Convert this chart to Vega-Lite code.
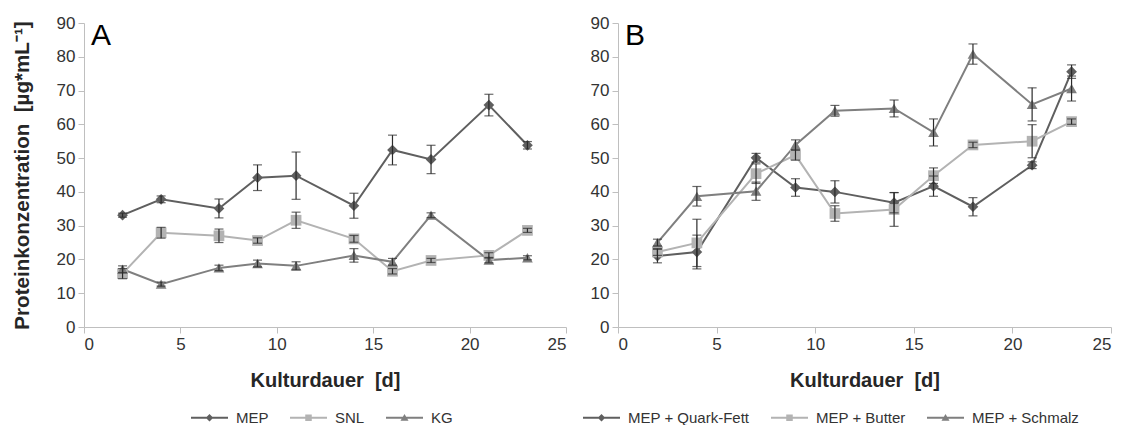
{
  "$schema": "https://vega.github.io/schema/vega-lite/v6.json",
  "padding": {"left": 12, "top": 14, "right": 5, "bottom": 0},
  "background": "white",
  "config": {
    "view": {"stroke": null},
    "font": "Liberation Sans",
    "axis": {
      "grid": false,
      "domainColor": "#bfbfbf",
      "tickColor": "#bfbfbf",
      "tickSize": 6,
      "labelFont": "Liberation Sans",
      "labelFontSize": 17,
      "labelColor": "#333333",
      "labelPadding": 3,
      "titleFont": "Liberation Sans",
      "titleFontSize": 20,
      "titleFontWeight": "bold",
      "titleColor": "#262626"
    },
    "title": {"anchor": "start", "frame": "group", "orient": "top", "offset": -37, "baseline": "alphabetic", "fontSize": 30, "fontWeight": "normal", "font": "Liberation Sans", "color": "#000000", "dx": 7},
    "legend": {
      "labelFont": "Liberation Sans",
      "labelFontSize": 15,
      "labelColor": "#333333",
      "orient": "none",
      "direction": "horizontal",
      "title": null,
      "labelOffset": 19,
      "columnPadding": 18,
      "symbolOpacity": 1
    }
  },
  "datasets": {
    "main": [
      {"panel": "A", "series": "MEP", "day": 2, "value": 33.1, "err": 0.6},
      {"panel": "A", "series": "MEP", "day": 4, "value": 37.8, "err": 1.0},
      {"panel": "A", "series": "MEP", "day": 7, "value": 35.1, "err": 2.8},
      {"panel": "A", "series": "MEP", "day": 9, "value": 44.2, "err": 3.8},
      {"panel": "A", "series": "MEP", "day": 11, "value": 44.8, "err": 7.0},
      {"panel": "A", "series": "MEP", "day": 14, "value": 35.9, "err": 3.7},
      {"panel": "A", "series": "MEP", "day": 16, "value": 52.4, "err": 4.4},
      {"panel": "A", "series": "MEP", "day": 18, "value": 49.6, "err": 4.2},
      {"panel": "A", "series": "MEP", "day": 21, "value": 65.7, "err": 3.2},
      {"panel": "A", "series": "MEP", "day": 23, "value": 53.8, "err": 1.1},
      {"panel": "A", "series": "SNL", "day": 2, "value": 15.8, "err": 1.5},
      {"panel": "A", "series": "SNL", "day": 4, "value": 27.9, "err": 1.6},
      {"panel": "A", "series": "SNL", "day": 7, "value": 27.0, "err": 2.0},
      {"panel": "A", "series": "SNL", "day": 9, "value": 25.6, "err": 0.8},
      {"panel": "A", "series": "SNL", "day": 11, "value": 31.6, "err": 2.4},
      {"panel": "A", "series": "SNL", "day": 14, "value": 26.1, "err": 1.0},
      {"panel": "A", "series": "SNL", "day": 16, "value": 16.5, "err": 0.8},
      {"panel": "A", "series": "SNL", "day": 18, "value": 19.7, "err": 0.6},
      {"panel": "A", "series": "SNL", "day": 21, "value": 21.2, "err": 0.8},
      {"panel": "A", "series": "SNL", "day": 23, "value": 28.6, "err": 0.6},
      {"panel": "A", "series": "KG", "day": 2, "value": 17.1, "err": 1.0},
      {"panel": "A", "series": "KG", "day": 4, "value": 12.7, "err": 0.6},
      {"panel": "A", "series": "KG", "day": 7, "value": 17.5, "err": 0.8},
      {"panel": "A", "series": "KG", "day": 9, "value": 18.8, "err": 1.0},
      {"panel": "A", "series": "KG", "day": 11, "value": 18.1, "err": 1.2},
      {"panel": "A", "series": "KG", "day": 14, "value": 21.2, "err": 2.0},
      {"panel": "A", "series": "KG", "day": 16, "value": 19.3, "err": 1.0},
      {"panel": "A", "series": "KG", "day": 18, "value": 33.1, "err": 0.7},
      {"panel": "A", "series": "KG", "day": 21, "value": 19.8, "err": 0.8},
      {"panel": "A", "series": "KG", "day": 23, "value": 20.5, "err": 0.6},
      {"panel": "B", "series": "MEP + Quark-Fett", "day": 2, "value": 21.0, "err": 2.0},
      {"panel": "B", "series": "MEP + Quark-Fett", "day": 4, "value": 22.2, "err": 5.0},
      {"panel": "B", "series": "MEP + Quark-Fett", "day": 7, "value": 50.1, "err": 1.3},
      {"panel": "B", "series": "MEP + Quark-Fett", "day": 9, "value": 41.3, "err": 2.6},
      {"panel": "B", "series": "MEP + Quark-Fett", "day": 11, "value": 40.0, "err": 3.3},
      {"panel": "B", "series": "MEP + Quark-Fett", "day": 14, "value": 36.8, "err": 3.0},
      {"panel": "B", "series": "MEP + Quark-Fett", "day": 16, "value": 41.7, "err": 3.0},
      {"panel": "B", "series": "MEP + Quark-Fett", "day": 18, "value": 35.6, "err": 2.7},
      {"panel": "B", "series": "MEP + Quark-Fett", "day": 21, "value": 47.9, "err": 1.0},
      {"panel": "B", "series": "MEP + Quark-Fett", "day": 23, "value": 75.6, "err": 2.0},
      {"panel": "B", "series": "MEP + Butter", "day": 2, "value": 22.2, "err": 1.0},
      {"panel": "B", "series": "MEP + Butter", "day": 4, "value": 24.9, "err": 7.0},
      {"panel": "B", "series": "MEP + Butter", "day": 7, "value": 45.4, "err": 2.9},
      {"panel": "B", "series": "MEP + Butter", "day": 9, "value": 50.9, "err": 1.5},
      {"panel": "B", "series": "MEP + Butter", "day": 11, "value": 33.6, "err": 2.3},
      {"panel": "B", "series": "MEP + Butter", "day": 14, "value": 34.8, "err": 5.0},
      {"panel": "B", "series": "MEP + Butter", "day": 16, "value": 44.8, "err": 2.3},
      {"panel": "B", "series": "MEP + Butter", "day": 18, "value": 53.9, "err": 0.8},
      {"panel": "B", "series": "MEP + Butter", "day": 21, "value": 55.0, "err": 4.9},
      {"panel": "B", "series": "MEP + Butter", "day": 23, "value": 60.8, "err": 0.8},
      {"panel": "B", "series": "MEP + Schmalz", "day": 2, "value": 25.0, "err": 1.0},
      {"panel": "B", "series": "MEP + Schmalz", "day": 4, "value": 38.7, "err": 2.9},
      {"panel": "B", "series": "MEP + Schmalz", "day": 7, "value": 40.2, "err": 2.7},
      {"panel": "B", "series": "MEP + Schmalz", "day": 9, "value": 53.9, "err": 1.5},
      {"panel": "B", "series": "MEP + Schmalz", "day": 11, "value": 64.0, "err": 1.6},
      {"panel": "B", "series": "MEP + Schmalz", "day": 14, "value": 64.7, "err": 2.5},
      {"panel": "B", "series": "MEP + Schmalz", "day": 16, "value": 57.6, "err": 4.0},
      {"panel": "B", "series": "MEP + Schmalz", "day": 18, "value": 80.8, "err": 3.0},
      {"panel": "B", "series": "MEP + Schmalz", "day": 21, "value": 65.9, "err": 4.9},
      {"panel": "B", "series": "MEP + Schmalz", "day": 23, "value": 70.6, "err": 3.7}
    ]
  },
  "spacing": 23,
  "hconcat": [
    {
      "title": {"text": "A"},
      "width": 482,
      "height": 304,
      "data": {"name": "main"},
      "transform": [{"filter": "datum.panel === 'A'"}],
      "encoding": {
        "x": {"field": "day", "type": "quantitative", "scale": {"domain": [0, 25], "nice": false}, "axis": {"values": [0, 5, 10, 15, 20, 25], "title": "Kulturdauer\u00a0 [d]", "titlePadding": 18}},
        "y": {"field": "value", "type": "quantitative", "scale": {"domain": [0, 90], "nice": false}, "axis": {"values": [0, 10, 20, 30, 40, 50, 60, 70, 80, 90], "title": "Proteinkonzentration\u00a0 [µg*mL⁻¹]", "titleFontSize": 20.6, "titlePadding": 24}}
      },
      "resolve": {"scale": {"color": "independent", "shape": "independent"}},
      "layer": [
        {
          "mark": {"type": "line", "strokeWidth": 2},
          "encoding": {
            "color": {"field": "series", "type": "nominal", "scale": {"domain": ["MEP", "SNL", "KG"], "range": ["#5f5f5f", "#b3b3b3", "#7f7f7f"]}, "legend": null}
          }
        },
        {
          "mark": {"type": "point", "filled": true, "opacity": 1, "size": 115},
          "encoding": {
            "color": {"field": "series", "type": "nominal", "scale": {"domain": ["MEP", "SNL", "KG"], "range": ["#5f5f5f", "#b3b3b3", "#7f7f7f"]}, "legend": null},
            "shape": {"field": "series", "type": "nominal", "scale": {"domain": ["MEP", "SNL", "KG"], "range": ["diamond", "square", "triangle-up"]}, "legend": null}
          }
        },
        {
          "mark": {"type": "errorbar", "ticks": {"size": 9}, "color": "#2b2b2b", "thickness": 1.2},
          "encoding": {"yError": {"field": "err"}}
        },
        {
          "data": {"values": [{"panel": "A", "lg": "MEP"}, {"panel": "A", "lg": "SNL"}, {"panel": "A", "lg": "KG"}]},
          "mark": {"type": "point", "filled": true, "opacity": 0, "size": 100, "strokeWidth": 0},
          "encoding": {
            "x": {"value": 0},
            "y": {"value": 0},
            "color": {"field": "lg", "type": "nominal", "scale": {"domain": ["MEP", "SNL", "KG"], "range": ["#5f5f5f", "#b3b3b3", "#7f7f7f"]}, "legend": {"legendX": 118, "legendY": 387}},
            "shape": {"field": "lg", "type": "nominal", "scale": {"domain": ["MEP", "SNL", "KG"], "range": [
              "M-3.7,-0.2L3.7,-0.2L3.7,0.2L-3.7,0.2Z M0,-0.75L0.75,0L0,0.75L-0.75,0Z",
              "M-3.7,-0.2L3.7,-0.2L3.7,0.2L-3.7,0.2Z M-0.65,-0.65L0.65,-0.65L0.65,0.65L-0.65,0.65Z",
              "M-3.7,-0.2L3.7,-0.2L3.7,0.2L-3.7,0.2Z M0,-0.75L0.8,0.6L-0.8,0.6Z"
            ]}, "legend": {"legendX": 118, "legendY": 387}}
          }
        }
      ]
    },
    {
      "title": {"text": "B"},
      "width": 493,
      "height": 304,
      "data": {"name": "main"},
      "transform": [{"filter": "datum.panel === 'B'"}],
      "encoding": {
        "x": {"field": "day", "type": "quantitative", "scale": {"domain": [0, 25], "nice": false}, "axis": {"values": [0, 5, 10, 15, 20, 25], "title": "Kulturdauer\u00a0 [d]", "titlePadding": 18}},
        "y": {"field": "value", "type": "quantitative", "scale": {"domain": [0, 90], "nice": false}, "axis": {"values": [0, 10, 20, 30, 40, 50, 60, 70, 80, 90], "title": null}}
      },
      "resolve": {"scale": {"color": "independent", "shape": "independent"}},
      "layer": [
        {
          "mark": {"type": "line", "strokeWidth": 2},
          "encoding": {
            "color": {"field": "series", "type": "nominal", "scale": {"domain": ["MEP + Quark-Fett", "MEP + Butter", "MEP + Schmalz"], "range": ["#5f5f5f", "#b3b3b3", "#7f7f7f"]}, "legend": null}
          }
        },
        {
          "mark": {"type": "point", "filled": true, "opacity": 1, "size": 115},
          "encoding": {
            "color": {"field": "series", "type": "nominal", "scale": {"domain": ["MEP + Quark-Fett", "MEP + Butter", "MEP + Schmalz"], "range": ["#5f5f5f", "#b3b3b3", "#7f7f7f"]}, "legend": null},
            "shape": {"field": "series", "type": "nominal", "scale": {"domain": ["MEP + Quark-Fett", "MEP + Butter", "MEP + Schmalz"], "range": ["diamond", "square", "triangle-up"]}, "legend": null}
          }
        },
        {
          "mark": {"type": "errorbar", "ticks": {"size": 9}, "color": "#2b2b2b", "thickness": 1.2},
          "encoding": {"yError": {"field": "err"}}
        },
        {
          "data": {"values": [{"panel": "B", "lg": "MEP + Quark-Fett"}, {"panel": "B", "lg": "MEP + Butter"}, {"panel": "B", "lg": "MEP + Schmalz"}]},
          "mark": {"type": "point", "filled": true, "opacity": 0, "size": 100, "strokeWidth": 0},
          "encoding": {
            "x": {"value": 0},
            "y": {"value": 0},
            "color": {"field": "lg", "type": "nominal", "scale": {"domain": ["MEP + Quark-Fett", "MEP + Butter", "MEP + Schmalz"], "range": ["#5f5f5f", "#b3b3b3", "#7f7f7f"]}, "legend": {"legendX": -24, "legendY": 387}},
            "shape": {"field": "lg", "type": "nominal", "scale": {"domain": ["MEP + Quark-Fett", "MEP + Butter", "MEP + Schmalz"], "range": [
              "M-3.7,-0.2L3.7,-0.2L3.7,0.2L-3.7,0.2Z M0,-0.75L0.75,0L0,0.75L-0.75,0Z",
              "M-3.7,-0.2L3.7,-0.2L3.7,0.2L-3.7,0.2Z M-0.65,-0.65L0.65,-0.65L0.65,0.65L-0.65,0.65Z",
              "M-3.7,-0.2L3.7,-0.2L3.7,0.2L-3.7,0.2Z M0,-0.75L0.8,0.6L-0.8,0.6Z"
            ]}, "legend": {"legendX": -24, "legendY": 387}}
          }
        }
      ]
    }
  ]
}
